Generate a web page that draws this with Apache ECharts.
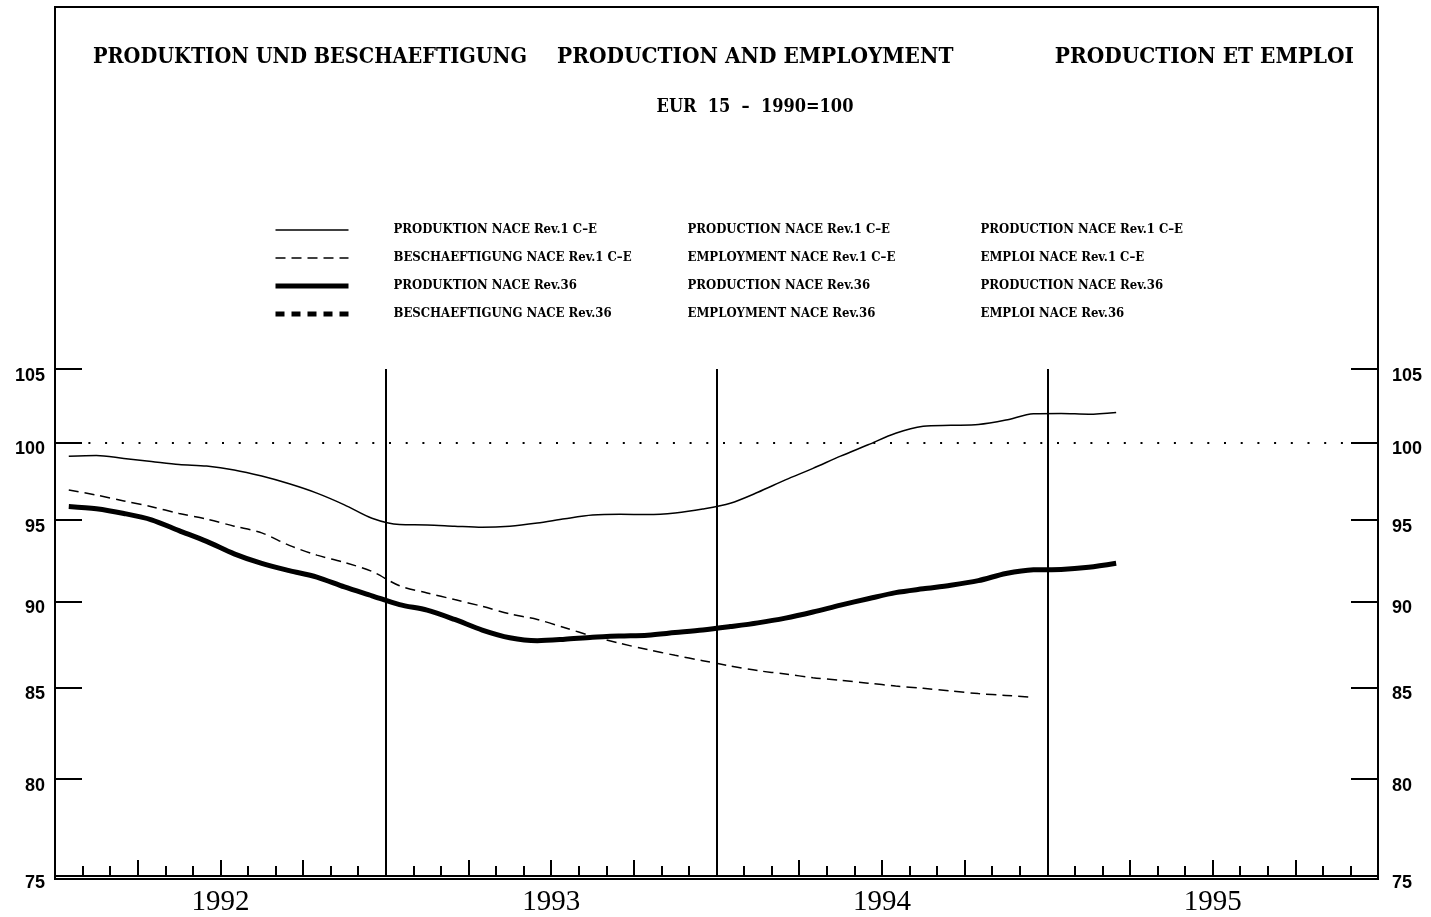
<!DOCTYPE html>
<html>
<head>
<meta charset="utf-8">
<script src="https://cdn.jsdelivr.net/npm/echarts@6/dist/echarts.min.js"></script>
<style>
html,body{margin:0;padding:0;background:#fff;}
#chart{width:1431px;height:917px;}
</style>
</head>
<body>
<div id="chart"></div>
<script>
// ---- Text ----
const TITLE_DE = 'PRODUKTION UND BESCHAEFTIGUNG';
const TITLE_EN = 'PRODUCTION AND EMPLOYMENT';
const TITLE_FR = 'PRODUCTION ET EMPLOI';
const SUBTITLE = 'EUR  15  –  1990=100';

const NAMES_DE = ['PRODUKTION NACE Rev.1 C–E', 'BESCHAEFTIGUNG NACE Rev.1 C–E', 'PRODUKTION NACE Rev.36', 'BESCHAEFTIGUNG NACE Rev.36'];
const NAMES_EN = ['PRODUCTION NACE Rev.1 C–E', 'EMPLOYMENT NACE Rev.1 C–E', 'PRODUCTION NACE Rev.36', 'EMPLOYMENT NACE Rev.36'];
const NAMES_FR = ['PRODUCTION NACE Rev.1 C–E', 'EMPLOI NACE Rev.1 C–E', 'PRODUCTION NACE Rev.36', 'EMPLOI NACE Rev.36'];

// ---- Axes ----
const YEARS = ['1992', '1993', '1994', '1995'];
const MONTHS = ['01','02','03','04','05','06','07','08','09','10','11','12'];
const CATEGORIES = [];
YEARS.forEach(y => MONTHS.forEach(m => CATEGORIES.push(y + '-' + m)));
const Y_TICKS = [75, 80, 85, 90, 95, 100, 105];
const REF_LEVEL = 100;

// ---- Series values (monthly, from Jan 1992) ----
const PROD_REV1 = [99.1, 99.15, 98.95, 98.75, 98.55, 98.45, 98.2, 97.8, 97.3, 96.7, 95.95, 95.1,
  94.7, 94.68, 94.6, 94.53, 94.6, 94.8, 95.07, 95.3, 95.35, 95.33, 95.43, 95.68,
  96.05, 96.75, 97.55, 98.3, 99.1, 99.85, 100.62, 101.08, 101.15, 101.2, 101.5, 101.93,
  101.95, 101.9, 102.02];
const EMP_REV1 = [96.9, 96.57, 96.2, 95.83, 95.4, 95.05, 94.6, 94.18, 93.4, 92.8, 92.35, 91.8,
  90.93, 90.5, 90.1, 89.7, 89.25, 88.92, 88.43, 87.94, 87.52, 87.16, 86.83, 86.52,
  86.22, 85.95, 85.76, 85.55, 85.4, 85.24, 85.08, 84.95, 84.8, 84.65, 84.55, 84.43];
const PROD_REV36 = [95.85, 95.7, 95.4, 95.0, 94.32, 93.65, 92.88, 92.29, 91.85, 91.46, 90.86, 90.33,
  89.8, 89.47, 88.92, 88.3, 87.85, 87.68, 87.76, 87.88, 87.95, 88.0, 88.15, 88.3,
  88.5, 88.72, 89.0, 89.36, 89.77, 90.15, 90.52, 90.75, 90.96, 91.24, 91.67, 91.9,
  91.92, 92.05, 92.3];
const EMP_REV36 = [];

const SERIF = '"DejaVu Serif Condensed", "DejaVu Serif", serif';
const SERIF_LIGHT = '"Liberation Serif", "DejaVu Serif", serif';
const SANS = '"Liberation Sans Narrow", "Liberation Sans", Arial, sans-serif';
const BLACK = '#000';

const chart = echarts.init(document.getElementById('chart'), null, {renderer: 'canvas'});

const gridLeft = 55, gridRight = 53, gridTop = 369, gridBottom = 38;

function yAxisDef(pos, margin) {
  return {
    type: 'log', logBase: 10, min: 75, max: 105, position: pos,
    axisLine: {show: true, lineStyle: {color: BLACK, width: 2}},
    axisTick: {show: true, inside: true, length: 27, lineStyle: {color: BLACK, width: 2}, customValues: Y_TICKS},
    axisLabel: {show: true, customValues: Y_TICKS, margin: margin, color: BLACK,
      fontFamily: SANS, fontWeight: 'bold', fontSize: 18,
      formatter: v => '{v|' + Math.round(v) + '}',
      rich: {v: {padding: [14, 0, 0, 0], fontFamily: SANS, fontWeight: 'bold', fontSize: 18, color: BLACK}}},
    splitLine: {show: false}
  };
}

const LEGEND_LINES = [
  {width: 1.5, type: 'solid'},
  {width: 1.5, type: [10, 6]},
  {width: 5, type: 'solid'},
  {width: 5, type: [9, 7]}
];

const LEGEND_FONT = {fontFamily: SERIF, fontWeight: 'bold', fontSize: 13, color: BLACK, lineHeight: 14};

const option = {
  animation: false,
  backgroundColor: '#fff',
  grid: {left: gridLeft, right: gridRight, top: gridTop, bottom: gridBottom, containLabel: false},
  legend: {
    orient: 'vertical', left: 273, top: 223, padding: 0,
    itemWidth: 73, itemHeight: 14, itemGap: 14,
    selectedMode: false,
    itemStyle: {opacity: 0},
    data: NAMES_DE.map((n, i) => ({name: n, itemStyle: {opacity: 0}, lineStyle: {color: BLACK, width: LEGEND_LINES[i].width, type: LEGEND_LINES[i].type}})),
    formatter: name => {
      const i = NAMES_DE.indexOf(name);
      return '{sp|}{a|' + NAMES_DE[i] + '}{b|' + NAMES_EN[i] + '}{c|' + NAMES_FR[i] + '}';
    },
    textStyle: Object.assign({}, LEGEND_FONT, {
      rich: {
        sp: Object.assign({width: 40}, LEGEND_FONT),
        a: Object.assign({width: 294}, LEGEND_FONT),
        b: Object.assign({width: 293}, LEGEND_FONT),
        c: Object.assign({}, LEGEND_FONT)
      }
    })
  },
  xAxis: [
    {
      type: 'category', data: CATEGORIES, boundaryGap: true, position: 'bottom',
      axisLine: {show: true, lineStyle: {color: BLACK, width: 2}},
      axisTick: {show: true, inside: true, length: 10, interval: 0, lineStyle: {color: BLACK, width: 2}},
      axisLabel: {show: false},
      splitLine: {show: true, interval: (i) => i % 12 === 0 && i > 0, lineStyle: {color: BLACK, width: 2}}
    },
    {
      type: 'category', data: CATEGORIES, boundaryGap: true, position: 'bottom',
      axisLine: {show: false},
      axisTick: {show: true, inside: true, length: 16, interval: (i) => i % 3 === 0, lineStyle: {color: BLACK, width: 2}},
      axisLabel: {show: false},
      splitLine: {show: false}
    },
    {
      type: 'value', min: 0, max: CATEGORIES.length, interval: 6, position: 'bottom',
      axisLine: {show: false}, axisTick: {show: false}, splitLine: {show: false},
      axisLabel: {show: true, margin: 12, color: BLACK, fontFamily: SERIF_LIGHT, fontSize: 29,
        formatter: v => (v / 6) % 2 === 1 ? YEARS[(v - 6) / 12] : ''}
    }
  ],
  yAxis: [yAxisDef('left', 10), yAxisDef('right', 14)],
  graphic: [
    {type: 'rect', shape: {x: 55, y: 7, width: 1323, height: 872}, style: {fill: null, stroke: BLACK, lineWidth: 2}, silent: true, z: 0},
    {type: 'text', x: 93, y: 57, style: {text: TITLE_DE, font: 'bold 21.5px ' + SERIF, fill: BLACK, textVerticalAlign: 'middle'}},
    {type: 'text', x: 557, y: 57, style: {text: TITLE_EN, font: 'bold 22.4px ' + SERIF, fill: BLACK, textVerticalAlign: 'middle'}},
    {type: 'text', x: 1354, y: 57, style: {text: TITLE_FR, font: 'bold 22.4px ' + SERIF, fill: BLACK, textAlign: 'right', textVerticalAlign: 'middle'}},
    {type: 'text', x: 755, y: 107, style: {text: SUBTITLE, font: 'bold 18px ' + SERIF, fill: BLACK, textAlign: 'center', textVerticalAlign: 'middle'}}
  ],
  series: [
    {
      name: NAMES_DE[0], type: 'line', data: PROD_REV1, symbol: 'none', smooth: 0.3,
      lineStyle: {color: BLACK, width: LEGEND_LINES[0].width}, itemStyle: {color: BLACK},
      markLine: {
        silent: true, symbol: ['none', 'none'], label: {show: false},
        lineStyle: {color: BLACK, width: 2, type: [2, 14.7]},
        data: [{yAxis: REF_LEVEL}]
      }
    },
    {
      name: NAMES_DE[1], type: 'line', data: EMP_REV1, symbol: 'none', smooth: 0.3,
      lineStyle: {color: BLACK, width: LEGEND_LINES[1].width, type: LEGEND_LINES[1].type}, itemStyle: {color: BLACK}
    },
    {
      name: NAMES_DE[2], type: 'line', data: PROD_REV36, symbol: 'none', smooth: 0.3,
      lineStyle: {color: BLACK, width: LEGEND_LINES[2].width}, itemStyle: {color: BLACK}
    },
    {
      name: NAMES_DE[3], type: 'line', data: EMP_REV36, symbol: 'none', smooth: 0.3,
      lineStyle: {color: BLACK, width: LEGEND_LINES[3].width, type: LEGEND_LINES[3].type}, itemStyle: {color: BLACK}
    }
  ]
};

chart.setOption(option);
</script>
</body>
</html>
